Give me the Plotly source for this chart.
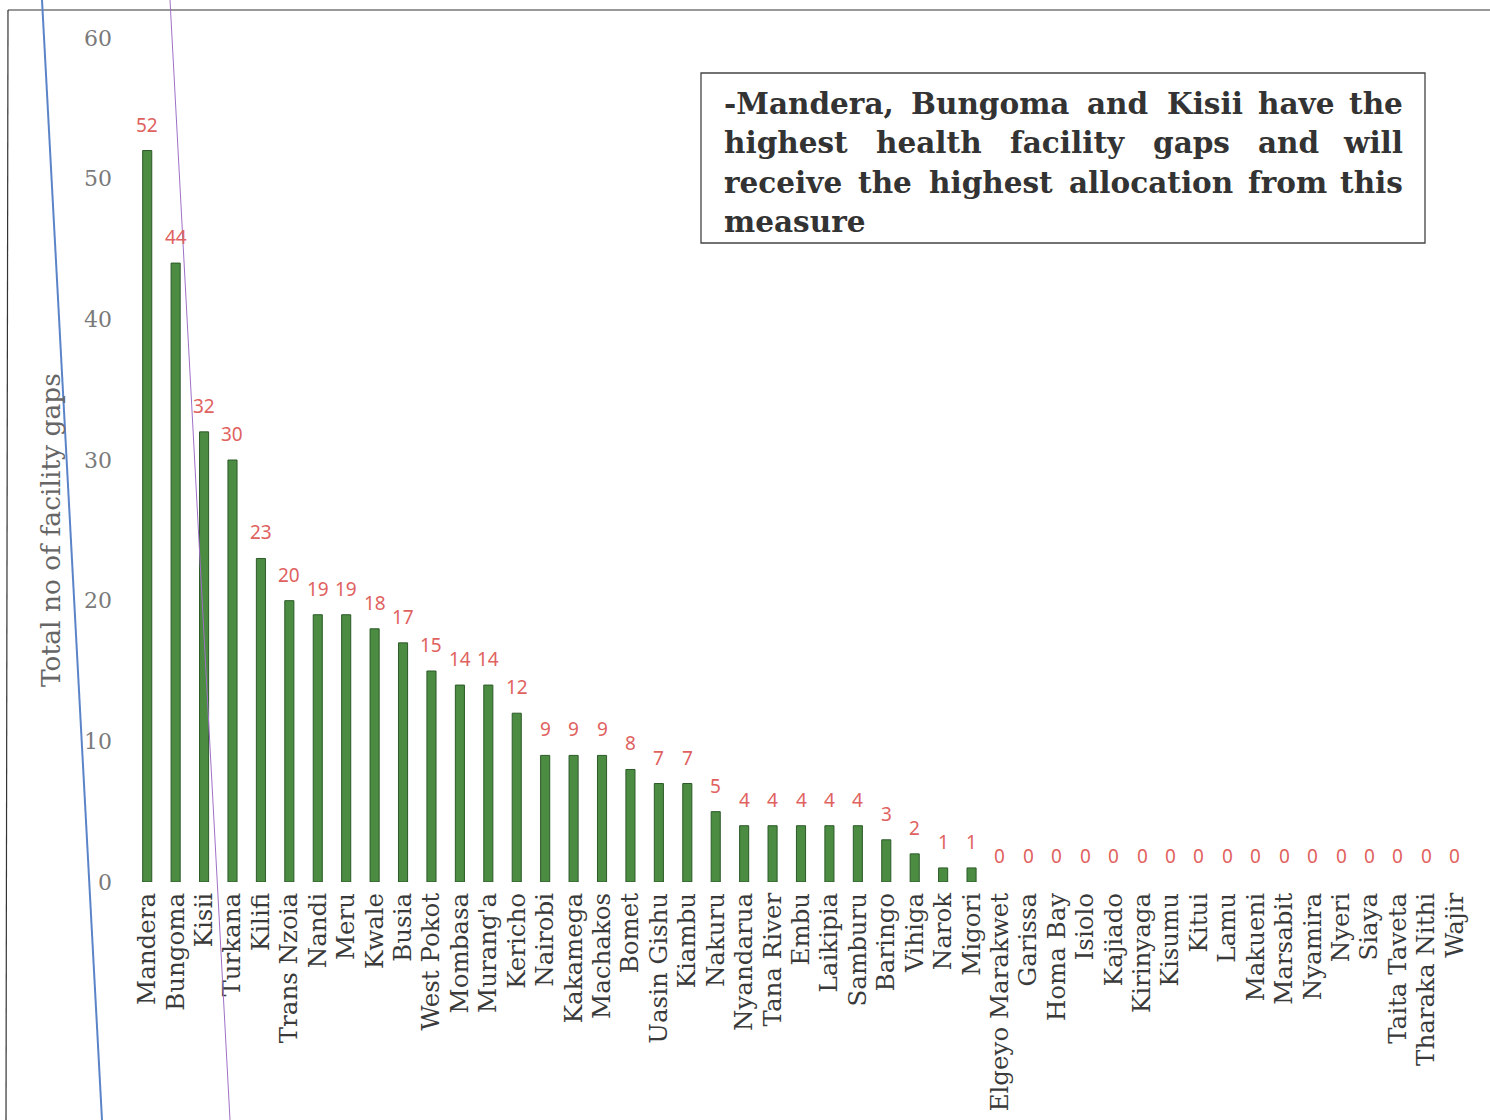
import plotly.graph_objects as go

# County health facility gaps
counties = [
    "Mandera", "Bungoma", "Kisii", "Turkana", "Kilifi", "Trans Nzoia", "Nandi", "Meru",
    "Kwale", "Busia", "West Pokot", "Mombasa", "Murang'a", "Kericho", "Nairobi", "Kakamega",
    "Machakos", "Bomet", "Uasin Gishu", "Kiambu", "Nakuru", "Nyandarua", "Tana River", "Embu",
    "Laikipia", "Samburu", "Baringo", "Vihiga", "Narok", "Migori", "Elgeyo Marakwet", "Garissa",
    "Homa Bay", "Isiolo", "Kajiado", "Kirinyaga", "Kisumu", "Kitui", "Lamu", "Makueni",
    "Marsabit", "Nyamira", "Nyeri", "Siaya", "Taita Taveta", "Tharaka Nithi", "Wajir",
]
facility_gaps = [
    52, 44, 32, 30, 23, 20, 19, 19, 18, 17, 15, 14, 14, 12, 9, 9,
    9, 8, 7, 7, 5, 4, 4, 4, 4, 4, 3, 2, 1, 1, 0, 0,
    0, 0, 0, 0, 0, 0, 0, 0, 0, 0, 0, 0, 0, 0, 0,
]
y_ticks = [0, 10, 20, 30, 40, 50, 60]

note_lines = [
    "-Mandera, Bungoma and Kisii have the",
    "highest health facility gaps and will",
    "receive the highest allocation from this",
    "measure",
]

W, H = 1490, 1120
ML, MR, MT, MB = 133, 21, 38, 238
PW, PH = W - ML - MR, H - MT - MB


def px(x):
    return (x - ML) / PW


def py(y):
    return (H - MB - y) / PH


# Approximate advance widths (em) of DejaVu Serif Bold, used to justify the note text
GLYPH_EM = {
    "-": 0.415, ",": 0.380, "M": 1.135, "B": 0.831, "K": 0.853,
    "a": 0.675, "c": 0.592, "d": 0.710, "e": 0.641, "f": 0.438, "g": 0.710,
    "h": 0.760, "i": 0.380, "l": 0.380, "m": 1.140, "n": 0.760, "o": 0.667,
    "p": 0.710, "r": 0.553, "s": 0.563, "t": 0.474, "u": 0.760, "v": 0.651,
    "w": 0.924, "y": 0.651,
}
NOTE_SIZE = 29.5
CAL = 0.965


def word_px(word):
    return sum(GLYPH_EM.get(ch, 0.65) for ch in word) * NOTE_SIZE * CAL


fig = go.Figure()
fig.add_trace(go.Bar(
    x=counties,
    y=facility_gaps,
    marker=dict(color="#4b8b42",
                line=dict(color="#2c5a28", width=[1 if v > 0 else 0 for v in facility_gaps])),
    showlegend=False,
))

annotations = []
for name, val in zip(counties, facility_gaps):
    annotations.append(dict(
        x=name, y=val, xref="x", yref="y", text=str(val), showarrow=False,
        yanchor="middle", yshift=26,
        font=dict(family="Noto Sans", size=19, color="#e0625f"),
    ))

# Note box text, justified between the box padding
note_font = dict(family="DejaVu Serif", size=NOTE_SIZE, color="#333333", weight="bold")
line_y = [103, 142, 182, 221]
x_left, x_right = 722, 1405
for i, (txt, yy) in enumerate(zip(note_lines, line_y)):
    words = txt.split(" ")
    last = i == len(note_lines) - 1
    if last or len(words) == 1:
        annotations.append(dict(
            x=px(x_left), y=py(yy), xref="paper", yref="paper", text=txt, showarrow=False,
            xanchor="left", yanchor="middle", font=note_font,
        ))
        continue
    widths = [word_px(w) for w in words]
    gap = (x_right - x_left - sum(widths)) / (len(words) - 1)
    cursor = x_left
    for j, (w, wd) in enumerate(zip(words, widths)):
        if j == len(words) - 1:
            annotations.append(dict(
                x=px(x_right), y=py(yy), xref="paper", yref="paper", text=w, showarrow=False,
                xanchor="right", yanchor="middle", font=note_font,
            ))
        else:
            annotations.append(dict(
                x=px(cursor), y=py(yy), xref="paper", yref="paper", text=w, showarrow=False,
                xanchor="left", yanchor="middle", font=note_font,
            ))
        cursor += wd + gap

# Y-axis title
annotations.append(dict(
    x=px(50), y=py(530), xref="paper", yref="paper", text="Total no of facility gaps",
    textangle=-90, showarrow=False, xanchor="center", yanchor="middle",
    font=dict(family="DejaVu Serif", size=26.5, color="#666666"),
))

shapes = [
    # note box
    dict(type="rect", xref="paper", yref="paper", x0=px(701), x1=px(1425), y0=py(73), y1=py(243),
         line=dict(color="#444444", width=1.3), fillcolor="rgba(0,0,0,0)"),
    # page frame
    dict(type="line", xref="paper", yref="paper", x0=px(8), x1=px(1490), y0=py(10), y1=py(10),
         line=dict(color="#333333", width=1.2)),
    dict(type="line", xref="paper", yref="paper", x0=px(8), x1=px(6), y0=py(10), y1=py(1120),
         line=dict(color="#333333", width=1.2)),
    # pen strokes across the page
    dict(type="line", xref="paper", yref="paper", x0=px(42), x1=px(102), y0=py(0), y1=py(1120),
         line=dict(color="#5b84c8", width=2)),
    dict(type="line", xref="paper", yref="paper", x0=px(170), x1=px(230), y0=py(0), y1=py(1120),
         line=dict(color="#a070c8", width=1)),
]

fig.update_layout(
    width=W, height=H,
    margin=dict(l=ML, r=MR, t=MT, b=MB, autoexpand=False),
    paper_bgcolor="white", plot_bgcolor="white",
    bargap=0.68,
    annotations=annotations,
    shapes=shapes,
    xaxis=dict(
        tickmode="linear", dtick=1,
        tickangle=-90,
        tickfont=dict(family="DejaVu Serif", size=24.5, color="#3a3a3a"),
        showgrid=False, showline=False, zeroline=False, ticks="",
        ticklabelstandoff=5, automargin=False,
    ),
    yaxis=dict(
        range=[0, 60], tickvals=y_ticks,
        tickfont=dict(family="DejaVu Serif", size=22, color="#7a7a7a"),
        showgrid=False, showline=False, zeroline=False, ticks="",
        ticklabelstandoff=20, automargin=False,
    ),
)

fig.write_html("out.html")
